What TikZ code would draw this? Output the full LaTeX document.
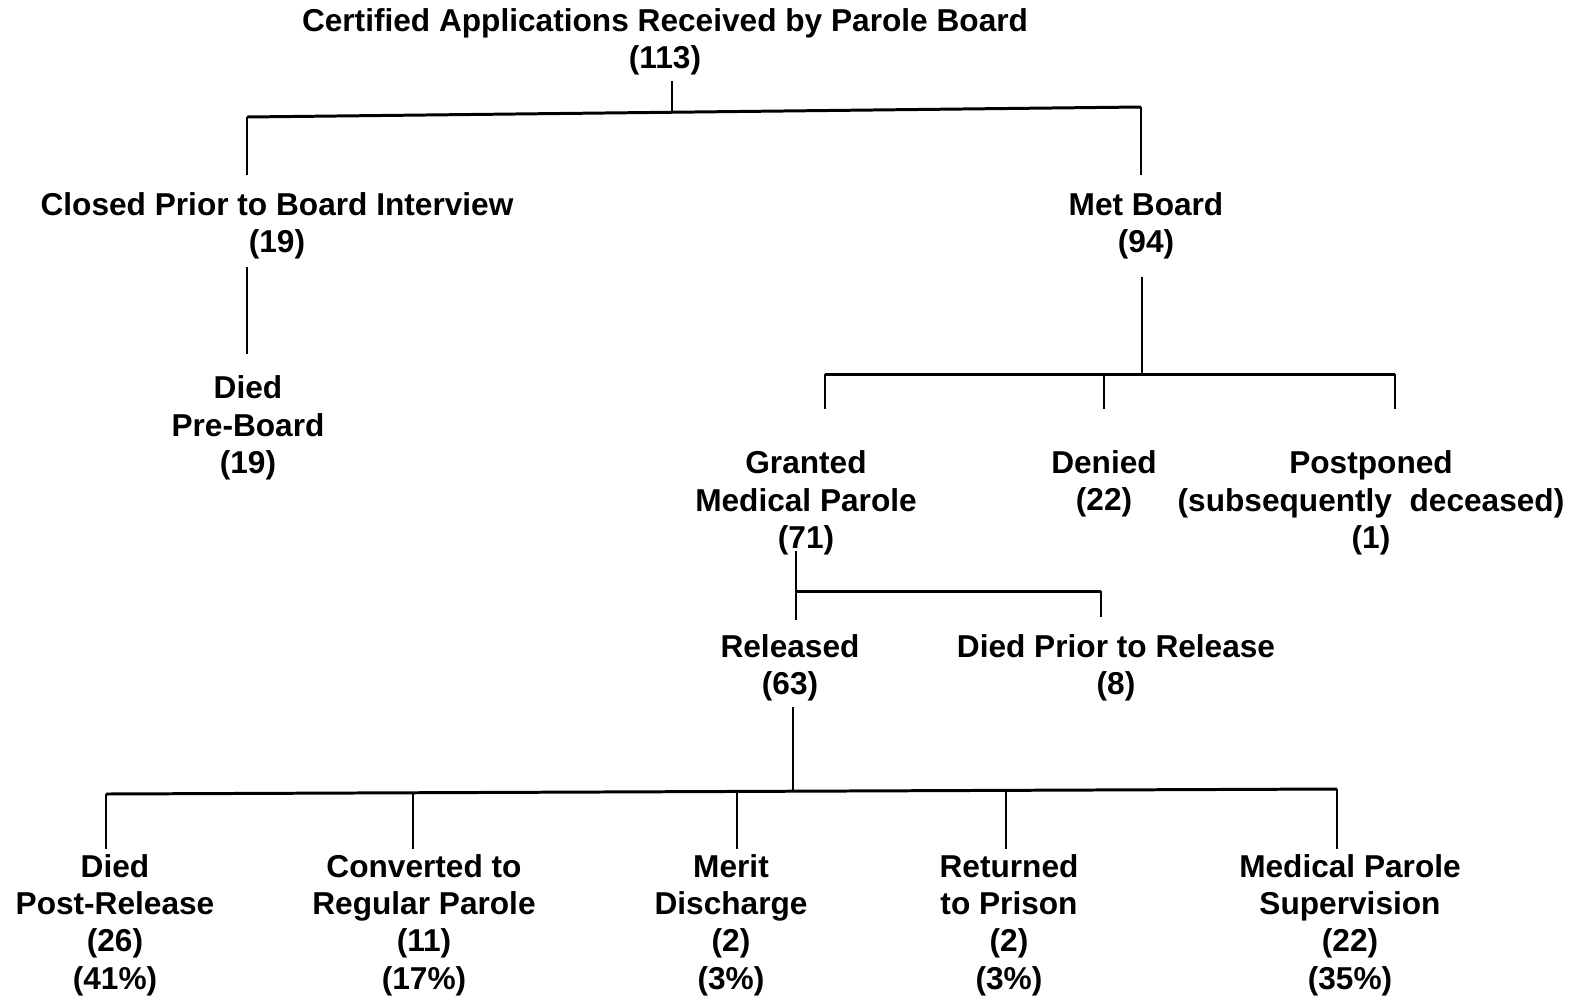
\documentclass[tikz,border=0pt]{standalone}
\usepackage{fontspec}
\setmainfont{Liberation Sans}
\usepackage{tikz}
\usetikzlibrary{calc}

\begin{document}
\begin{tikzpicture}[x=0.2mm, y=-0.2mm,
  lbl/.style={align=center, font=\fontsize{18}{21.3}\selectfont\bfseries, inner sep=3pt},
  stem/.style={line width=1pt, black},
  bar/.style={line width=1.7pt, black}
]
  \useasboundingbox (0,0) rectangle (1577,997);

  % labels
  \node[lbl] (apps) at (665,42) {Certified Applications Received by Parole Board \\ (113)};
  \node[lbl] (closed) at (277,226) {Closed Prior to Board Interview \\ (19)};
  \node[lbl] (preboard) at (248,428) {Died \\ Pre-Board \\ (19)};
  \node[lbl] (met) at (1146,226) {Met Board \\ (94)};

  \node[lbl] (granted) at (806,503) {Granted \\ Medical Parole \\ (71)};
  \node[lbl] (denied) at (1104,484) {Denied \\ (22)};
  \node[lbl] (postponed) at (1371,503) {Postponed \\ (subsequently\ \ deceased) \\ (1)};

  \node[lbl] (released) at (790,668) {Released \\ (63)};
  \node[lbl] (diedprior) at (1116,668) {Died Prior to Release \\ (8)};

  \node[lbl] (postrel) at (115,925) {Died \\ Post-Release \\ (26) \\ (41\%)};
  \node[lbl] (regular) at (424,925) {Converted to \\ Regular Parole \\ (11) \\ (17\%)};
  \node[lbl] (merit) at (731,925) {Merit \\ Discharge \\ (2) \\ (3\%)};
  \node[lbl] (returned) at (1009,925) {Returned \\ to Prison \\ (2) \\ (3\%)};
  \node[lbl] (supervision) at (1350,925) {Medical Parole \\ Supervision \\ (22) \\ (35\%)};

  % junctions
  \coordinate (topJ) at (672,112);
  \coordinate (topL) at (247,117);
  \coordinate (topR) at (1141,107);
  \coordinate (metJ) at (1142,374);
  \coordinate (gA) at (825,374);
  \coordinate (gB) at (1104,374);
  \coordinate (gC) at (1395,374);
  \coordinate (relJ) at (796,591);
  \coordinate (dpJ) at (1101,591);
  \coordinate (botJ) at (793,791);
  \coordinate (bA) at (106,794);
  \coordinate (bB) at (413,793);
  \coordinate (bC) at (737,792);
  \coordinate (bD) at (1006,790);
  \coordinate (bE) at (1337,789);

  % tree lines
  \draw[stem] (topJ |- apps.south) -- (topJ);
  \draw[bar] (topL) -- (topR);
  \draw[stem] (topL) -- ($(topL |- closed.north)+(0,-12)$);
  \draw[stem] (topR) -- ($(topR |- met.north)+(0,-12)$);
  \draw[stem] ($(topL |- closed.south)+(0,2)$) -- ($(topL |- preboard.north)+(0,-16)$);

  \draw[stem] ($(metJ |- met.south)+(0,12)$) -- (metJ);
  \draw[bar] (gA) -- (gC);
  \draw[stem] (gA) -- ($(gA |- granted.north)+(0,-36)$);
  \draw[stem] (gB) -- ($(gB |- denied.north)+(0,-36)$);
  \draw[stem] (gC) -- ($(gC |- postponed.north)+(0,-36)$);

  \draw[stem] ($(relJ |- granted.south)+(0,-10)$) -- ($(relJ |- released.north)+(0,-9)$);
  \draw[bar] (relJ) -- (dpJ);
  \draw[stem] (dpJ) -- ($(dpJ |- diedprior.north)+(0,-12)$);

  \draw[stem] (botJ |- released.south) -- (botJ);
  \draw[bar] (bA) -- (bE);
  \draw[stem] (bA) -- (bA |- postrel.north);
  \draw[stem] (bB) -- (bB |- regular.north);
  \draw[stem] (bC) -- (bC |- merit.north);
  \draw[stem] (bD) -- (bD |- returned.north);
  \draw[stem] (bE) -- (bE |- supervision.north);
\end{tikzpicture}
\end{document}
